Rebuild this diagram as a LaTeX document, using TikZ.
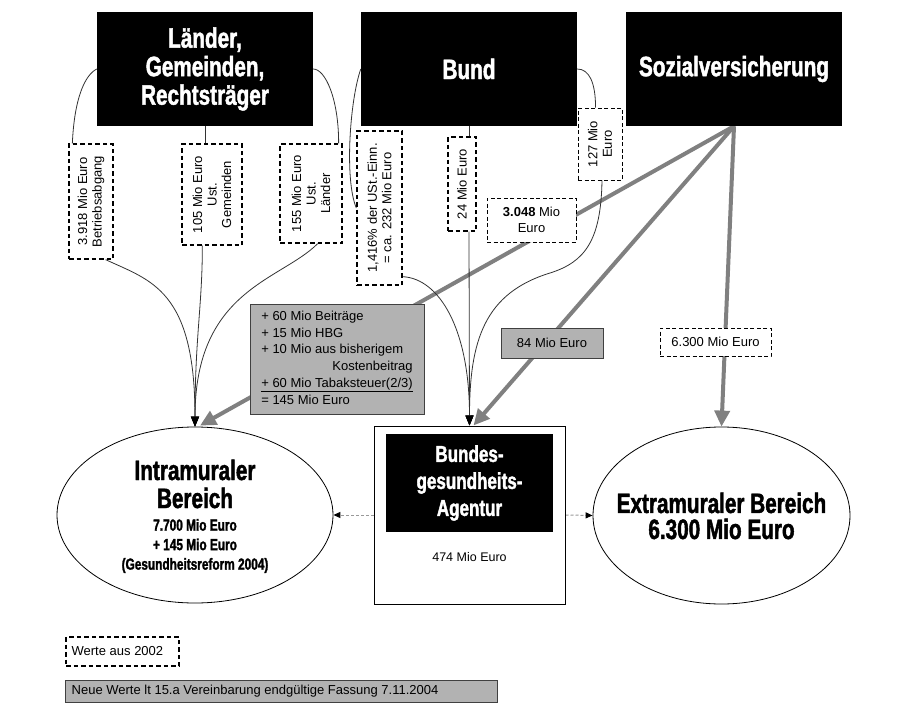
\documentclass[tikz,border=0pt]{standalone}
\usepackage{fontspec}
\setmainfont{Liberation Sans}
\newfontfamily\imp{Liberation Sans}[FakeStretch=0.74,FakeBold=1.6]
\usetikzlibrary{arrows.meta,calc,shapes.geometric}
\pgfdeclarelayer{bg}
\pgfsetlayers{bg,main}
\begin{document}
\begin{tikzpicture}[x=1pt,y=-1pt,
 title/.style={fill=black, text=white, font=\imp\bfseries\fontsize{28}{28.5}\selectfont, align=center, inner sep=0pt},
 dbox/.style={draw=black, line width=1.3pt, dash pattern=on 4.5pt off 3pt, fill=white, inner sep=0pt},
 dthin/.style={draw=black, line width=0.9pt, dash pattern=on 4pt off 2.5pt, fill=white, inner sep=0pt},
 gbox/.style={draw=black!75, line width=1pt, fill=gray!60, inner sep=0pt},
 lab/.style={font=\fontsize{13}{14.5}\selectfont, align=center, inner sep=0pt},
 thinline/.style={draw=black!80, line width=0.8pt},
 thinarr/.style={thinline, -{Triangle[length=10pt,width=8pt,black]}},
 greyarr/.style={draw=gray, line width=4pt, -{Triangle[length=16pt,width=15pt]}},
 flow/.style={draw=gray!80, line width=1pt, dash pattern=on 3pt off 2pt, -{Triangle[length=7pt,width=6pt,black]}},
 bigtxt/.style={font=\imp\bfseries\fontsize{28}{28}\selectfont, align=center, inner sep=0pt}
]
\useasboundingbox (0,0) rectangle (919,720);

% top sources
\node[title, minimum width=216, minimum height=114] (L) at (205,69) {Länder,\\Gemeinden,\\Rechtsträger};
\node[title, minimum width=216, minimum height=114] (B) at (469,69) {Bund};
\node[title, minimum width=216, minimum height=114] (S) at (734,69) {Sozialversicherung};

% dashed value labels (2002)
\node[dbox, minimum width=44, minimum height=115] (a1) at (91,201.5) {};
\node[lab, rotate=90] (a1t) at (a1) {3.918 Mio Euro\\Betriebsabgang};
\node[dbox, minimum width=60, minimum height=101] (a2) at (212,194.5) {};
\node[lab, rotate=90] (a2t) at (a2) {105 Mio Euro\\Ust.\\Gemeinden};
\node[dbox, minimum width=62, minimum height=99] (a3) at (311,193.5) {};
\node[lab, rotate=90] (a3t) at (a3) {155 Mio Euro\\Ust.\\Länder};
\node[dbox, minimum width=45, minimum height=154] (b1) at (379.5,208) {};
\node[lab, rotate=90] (b1t) at (b1) {1,416\% der USt.-Einn.\\= ca. 232 Mio Euro};
\node[dbox, minimum width=28, minimum height=94] (b2) at (462,184) {};
\node[lab, rotate=90] (b2t) at (b2) {24 Mio Euro};
\node[dthin, minimum width=44, minimum height=72] (b3) at (600,144) {};
\node[lab, rotate=90] (b3t) at (b3) {127 Mio\\Euro};
\node[dthin, minimum width=89, minimum height=44] (c1) at (531.5,220) {};
\node[lab, font=\fontsize{13}{16}\selectfont] (c1t) at (c1) {\textbf{3.048} Mio\\Euro};
\node[dthin, minimum width=111, minimum height=28] (d6) at (715.5,342) {};
\node[lab] (d6t) at (d6) {6.300 Mio Euro};

% grey labels (2004)
\node[gbox, minimum width=174, minimum height=110] (g1) at (337,359) {};
\node[inner sep=0pt, font=\fontsize{13}{16.7}\selectfont] (g1t) at (g1) {\def\arraystretch{1}\begin{tabular}{@{}l@{}}
+ 60 Mio Beiträge\\
+ 15 Mio HBG\\
+ 10 Mio aus bisherigem\\
\hfill Kostenbeitrag\\
\underline{+ 60 Mio Tabaksteuer(2/3)}\\
= 145 Mio Euro
\end{tabular}};
\node[gbox, minimum width=102, minimum height=30] (g2) at (552,343) {};
\node[lab] (g2t) at (g2) {84 Mio Euro};

% agency
\node[draw=black, line width=1pt, fill=white, minimum width=191, minimum height=178, inner sep=0pt] (G) at (469.5,515) {};
\node[title, font=\imp\bfseries\fontsize{23}{27}\selectfont, minimum width=167, minimum height=98] (Gt) at (469.5,483) {Bundes-\\gesundheits-\\Agentur};
\node[font=\fontsize{12.5}{14}\selectfont, inner sep=0pt] (Gv) at (469.5,557) {474 Mio Euro};

% sectors
\node[ellipse, draw=black, line width=0.8pt, fill=white, minimum width=276, minimum height=176, inner sep=0pt] (I) at (195,515) {};
\node[bigtxt] (It) at (195,484) {Intramuraler\\Bereich};
\node[bigtxt, font=\imp\bfseries\fontsize{16}{19.5}\selectfont] (Iv) at (195,546) {7.700 Mio Euro\\+ 145 Mio Euro\\(Gesundheitsreform 2004)};
\node[ellipse, draw=black, line width=0.8pt, fill=white, minimum width=257, minimum height=177, inner sep=0pt] (E) at (721.5,515.5) {};
\node[bigtxt, font=\imp\bfseries\fontsize{28}{26}\selectfont] (Et) at (721.5,516) {Extramuraler Bereich\\6.300 Mio Euro};

% legend
\node[dbox, line width=1.1pt, minimum width=113, minimum height=29] (w1) at (122.5,651.5) {};
\node[anchor=west, inner sep=0pt, font=\fontsize{13}{15}\selectfont] (w1t) at ($(w1.west)+(6,0)$) {Werte aus 2002};
\node[gbox, minimum width=432, minimum height=22] (w2) at (281,691) {};
\node[anchor=west, inner sep=0pt, font=\fontsize{13}{15}\selectfont] (w2t) at ($(w2.west)+(7,0)$) {Neue Werte lt 15.a Vereinbarung endgültige Fassung 7.11.2004};

\begin{pgfonlayer}{bg}
\fill[white] (0,0) rectangle (919,720);
% grey flows from Sozialversicherung
\draw[greyarr] (S.south) -- ($(I.north)+(5,-1)$);
\draw[greyarr] (S.south) -- ($(G.north)+(4,0)$);
\draw[greyarr] (S.south) -- (E.north);
% Länder
\draw[thinline] (L.west) .. controls +(-12,6) and +(2,-45) .. ($(a1.north west)+(4,0)$);
\draw[thinline] (L.south) -- (L.south |- a2.north);
\draw[thinline] (L.east) .. controls +(12,0) and +(0,-45) .. ($(a3.north east)+(-4,0)$);
\draw[thinarr] ($(a1.south east)+(-8,0)$) .. controls +(45,21) and +(0,-137) .. (I.north);
\draw[thinarr] ($(a2.south west)+(21,0)$) .. controls +(0,60) and +(0,-90) .. (I.north);
\draw[thinarr] ($(a3.south east)+(-25,0)$) .. controls +(-37,37) and +(0,-137) .. (I.north);
% Bund
\draw[thinline] (B.west) .. controls +(-11,31) and +(-12,-28) .. (b1.west);
\draw[thinarr] ($(b1.south east)+(0,-9)$) .. controls +(37,2) and +(0,-96) .. (G.north);
\draw[thinline] (B.south) -- (B.south |- b2.north);
\draw[thinarr] (B.south |- b2.south) -- (G.north);
\draw[thinline] (B.east) .. controls +(12,0) and +(0,-25) .. ($(b3.north west)+(18,0)$);
\draw[thinarr] ($(b3.south)+(2,0)$) .. controls +(-1,60) and +(35,-11) .. (550,273) .. controls +(-65,20) and +(0,-86) .. (G.north);
% agency distribution
\draw[flow] (G.west) -- (I.east);
\draw[flow] (G.east) -- (E.west);
\end{pgfonlayer}
\end{tikzpicture}
\end{document}
